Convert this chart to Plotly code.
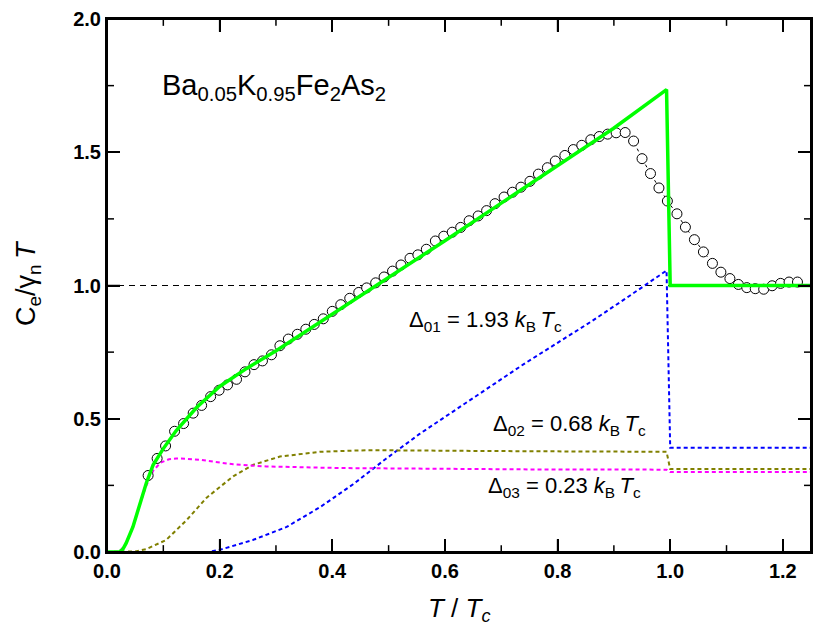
import plotly.graph_objects as go

# ---- data ----
data_x = [0.073,0.089,0.104,0.120,0.136,0.153,0.168,0.184,0.199,0.214,0.230,0.245,0.261,0.276,0.292,0.307,0.322,0.338,0.353,0.368,
          0.384,0.400,0.415,0.431,0.447,0.461,0.477,0.492,0.507,0.522,0.538,0.552,0.567,0.583,0.598,0.613,0.628,0.643,0.659,0.674,
          0.689,0.705,0.720,0.735,0.751,0.766,0.782,0.796,0.813,0.828,0.843,0.859,0.874,0.889,0.904,0.920,0.935,0.950,0.965,0.980,
          0.995,1.012,1.027,1.043,1.059,1.075,1.090,1.106,1.121,1.136,1.151,1.166,1.181,1.196,1.211,1.226]
data_y = [0.287,0.351,0.398,0.453,0.482,0.521,0.550,0.583,0.607,0.627,0.648,0.676,0.703,0.717,0.740,0.774,0.799,0.817,0.836,0.854,
          0.875,0.903,0.928,0.952,0.974,0.991,1.010,1.032,1.054,1.077,1.102,1.115,1.136,1.167,1.185,1.200,1.218,1.243,1.261,1.281,
          1.307,1.332,1.350,1.369,1.391,1.418,1.442,1.467,1.488,1.510,1.526,1.547,1.559,1.568,1.573,1.574,1.542,1.476,1.420,1.366,
          1.317,1.269,1.219,1.172,1.126,1.083,1.050,1.026,1.004,0.992,0.988,0.986,0.999,1.008,1.013,1.013]

total_x = [0, 0.022, 0.028, 0.034, 0.046, 0.058, 0.070, 0.082, 0.100, 0.123, 0.159, 0.200, 0.248, 0.301, 0.354, 0.401,
           0.481, 0.520, 0.600, 0.700, 0.822, 0.899, 0.9935, 1.0, 1.25]
total_y = [0, 0, 0.010, 0.033, 0.094, 0.180, 0.260, 0.327, 0.388, 0.456, 0.542, 0.621, 0.689, 0.756, 0.829, 0.891,
           1.001, 1.056, 1.168, 1.309, 1.481, 1.589, 1.735, 1.0, 1.0]

gap1_x = [0, 0.18, 0.20, 0.259, 0.319, 0.378, 0.437, 0.496, 0.555, 0.62, 0.68, 0.74, 0.80, 0.86, 0.92, 0.9935, 1.0, 1.25]
gap1_y = [0, 0, 0.008, 0.045, 0.094, 0.168, 0.254, 0.351, 0.443, 0.535, 0.62, 0.705, 0.785, 0.865, 0.95, 1.056, 0.391, 0.391]

gap2_x = [0, 0.03, 0.05, 0.07, 0.105, 0.141, 0.177, 0.224, 0.259, 0.307, 0.378, 0.461, 0.555, 0.75, 0.9935, 1.0, 1.25]
gap2_y = [0, 0, 0.002, 0.011, 0.045, 0.119, 0.204, 0.284, 0.327, 0.358, 0.376, 0.382, 0.380, 0.378, 0.376, 0.311, 0.311]

gap3_x = [0, 0.022, 0.034, 0.046, 0.058, 0.070, 0.082, 0.095, 0.110, 0.123, 0.140, 0.165, 0.224, 0.283, 0.413, 0.55, 0.75,
          0.9935, 1.0, 1.25]
gap3_y = [0, 0, 0.033, 0.094, 0.178, 0.250, 0.305, 0.335, 0.348, 0.351, 0.350, 0.346, 0.329, 0.321, 0.315, 0.312, 0.310,
          0.309, 0.300, 0.300]

ref_x = [0, 1.25]
ref_y = [1.0, 1.0]

# tick positions (major labelled, minor unlabelled)
x_major = [0.0, 0.2, 0.4, 0.6, 0.8, 1.0, 1.2]
x_minor = [0.1, 0.3, 0.5, 0.7, 0.9, 1.1]
y_major = [0.0, 0.5, 1.0, 1.5, 2.0]
y_minor = [0.25, 0.75, 1.25, 1.75]

FONT = "Liberation Sans, Arial, sans-serif"
W, H = 830, 639
M = dict(l=107, r=19, t=8, b=87)
PW = W - M["l"] - M["r"]
PH = H - M["t"] - M["b"]

fig = go.Figure()
fig.add_trace(go.Scatter(x=ref_x, y=ref_y, mode="lines",
                         line=dict(color="black", width=1, dash="6px,5px"), hoverinfo="skip"))
fig.add_trace(go.Scatter(x=gap1_x, y=gap1_y, mode="lines",
                         line=dict(color="#0000FF", width=2, dash="4px,3px")))
fig.add_trace(go.Scatter(x=gap2_x, y=gap2_y, mode="lines",
                         line=dict(color="#808000", width=2, dash="4px,3px")))
fig.add_trace(go.Scatter(x=gap3_x, y=gap3_y, mode="lines",
                         line=dict(color="#FF00FF", width=2, dash="4px,3px")))
fig.add_trace(go.Scatter(x=data_x, y=data_y, mode="lines",
                         line=dict(color="black", width=1, dash="dot")))
fig.add_trace(go.Scatter(x=data_x, y=data_y, mode="markers",
                         marker=dict(symbol="circle", size=10, color="white", line=dict(width=1, color="black"))))
fig.add_trace(go.Scatter(x=total_x, y=total_y, mode="lines",
                         line=dict(color="#00FF00", width=3.5)))

axis_common = dict(showgrid=False, zeroline=False, showline=True, linecolor="#000000", linewidth=2,
                   ticks="inside", ticklen=13, tickwidth=2, tickcolor="#000000", mirror="allticks",
                   tickformat=".1f", ticklabeloverflow="allow",
                   tickfont=dict(family=FONT, size=20, color="black", weight="bold"))

fig.update_xaxes(range=[0, 1.25], tickmode="array", tickvals=x_major, **axis_common)
fig.update_yaxes(range=[0, 2.0], tickmode="array", tickvals=y_major, **axis_common)

# frame and tick marks drawn as layout shapes (robust rendering)
TICK = dict(color="black", width=1.5)
MAJ, MIN = 13, 7
for vals, ln in ((x_major, MAJ), (x_minor, MIN)):
    for v in vals:
        fig.add_shape(type="line", xref="x", yref="y domain", x0=v, x1=v, y0=0, y1=ln / PH, line=TICK, layer="above")
        fig.add_shape(type="line", xref="x", yref="y domain", x0=v, x1=v, y0=1, y1=1 - ln / PH, line=TICK, layer="above")
for vals, ln in ((y_major, MAJ), (y_minor, MIN)):
    for v in vals:
        fig.add_shape(type="line", xref="x domain", yref="y", y0=v, y1=v, x0=0, x1=ln / PW, line=TICK, layer="above")
        fig.add_shape(type="line", xref="x domain", yref="y", y0=v, y1=v, x0=1, x1=1 - ln / PW, line=TICK, layer="above")
fig.add_shape(type="rect", xref="paper", yref="paper", x0=0, x1=1, y0=0, y1=1,
              line=dict(color="black", width=2), fillcolor="rgba(0,0,0,0)", layer="above")

annos = [
    dict(x=0.094, y=1.743, xref="x", yref="y", xanchor="left", yanchor="middle",
         text="Ba<sub>0.05</sub>K<sub>0.95</sub>Fe<sub>2</sub>As<sub>2</sub>", font=dict(size=29)),
    dict(x=0.533, y=0.865, xref="x", yref="y", xanchor="left", yanchor="middle",
         text="Δ<sub>01</sub> = 1.93 <i>k</i><sub>B</sub>\u2009<i>T</i><sub>c</sub>", font=dict(size=22)),
    dict(x=0.681, y=0.475, xref="x", yref="y", xanchor="left", yanchor="middle",
         text="Δ<sub>02</sub> = 0.68 <i>k</i><sub>B</sub>\u2009<i>T</i><sub>c</sub>", font=dict(size=22)),
    dict(x=0.673, y=0.243, xref="x", yref="y", xanchor="left", yanchor="middle",
         text="Δ<sub>03</sub> = 0.23 <i>k</i><sub>B</sub>\u2009<i>T</i><sub>c</sub>", font=dict(size=22)),
    dict(x=0.5, y=-0.108, xref="paper", yref="paper", xanchor="center", yanchor="middle",
         text="<i>T</i> / <i>T</i><sub><i>c</i></sub>", font=dict(size=26)),
    dict(x=-0.112, y=0.505, xref="paper", yref="paper", xanchor="center", yanchor="middle", textangle=-90,
         text="C<sub>e</sub>/γ<sub>n</sub>\u2009<i>T</i>", font=dict(size=27)),
]
for a in annos:
    a["showarrow"] = False
    a["font"].update(family=FONT, color="black")
    fig.add_annotation(**a)

fig.update_layout(width=W, height=H, showlegend=False,
                  plot_bgcolor="white", paper_bgcolor="white",
                  margin=M, font=dict(family=FONT, color="black"))

fig.write_html("out.html", config={"displayModeBar": False},
               post_script="document.body.style.margin='0';")
